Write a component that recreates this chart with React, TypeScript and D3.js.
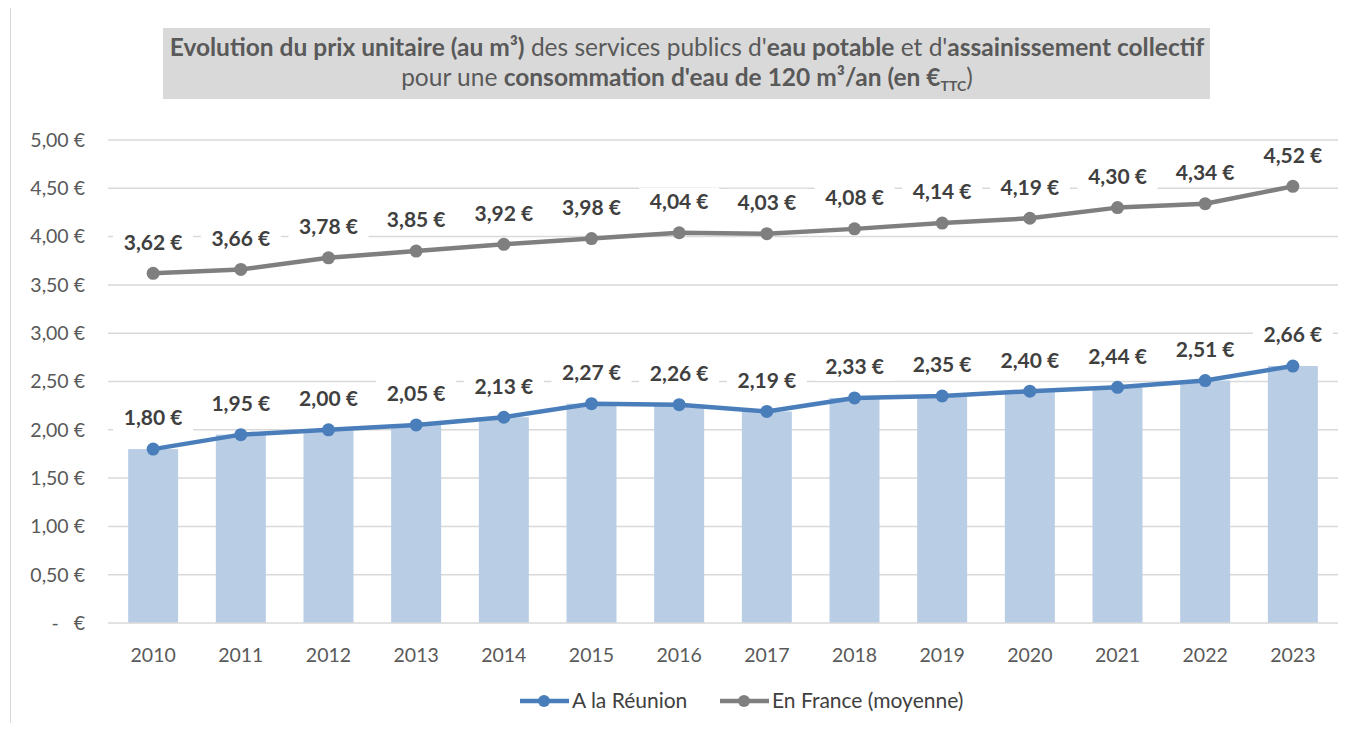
import React, { useRef, useEffect } from "react";
import * as d3 from "d3";

const years = ["2010", "2011", "2012", "2013", "2014", "2015", "2016", "2017", "2018", "2019", "2020", "2021", "2022", "2023"];
const reunion = [1.8, 1.95, 2.0, 2.05, 2.13, 2.27, 2.26, 2.19, 2.33, 2.35, 2.4, 2.44, 2.51, 2.66];
const france = [3.62, 3.66, 3.78, 3.85, 3.92, 3.98, 4.04, 4.03, 4.08, 4.14, 4.19, 4.3, 4.34, 4.52];
const yTicks = [0, 0.5, 1, 1.5, 2, 2.5, 3, 3.5, 4, 4.5, 5];
const seriesNames = ["A la Réunion", "En France (moyenne)"];

const W = 1353;
const H = 731;
const FONT = "Lato, 'Open Sans', sans-serif";
const BLUE = "#4a7ebb";
const GRAY = "#7f7f7f";
const BAR = "#b9cde5";
const TEXT = "#404040";

const fmt = (v: number) => v.toFixed(2).replace(".", ",") + " €";

const App = () => {
  const svgRef = useRef<SVGSVGElement>(null);

  useEffect(() => {
    const svg = d3.select(svgRef.current);
    svg.selectAll("*").remove();

    const margin = { top: 140, right: 15, bottom: 108, left: 108 };
    const plotW = W - margin.left - margin.right;

    const x = d3.scaleBand().domain(years).range([margin.left, margin.left + plotW]).paddingInner(0.43).paddingOuter(0.23);
    const y = d3.scaleLinear().domain([0, 5]).range([623, 140]);

    // outer frame
    svg.append("rect").attr("x", 10.5).attr("y", 6.5).attr("width", W - 14).attr("height", H - 10)
      .attr("fill", "white").attr("stroke", "#d9d9d9");

    // title box
    svg.append("rect").attr("x", 163).attr("y", 28).attr("width", 1047).attr("height", 71).attr("fill", "#d9d9d9");
    const t1 = svg.append("text").attr("x", 687).attr("y", 56).attr("text-anchor", "middle")
      .style("font-family", FONT).style("font-size", "24.5px").attr("fill", "#595959");
    [["Evolution du prix unitaire (au m³)", true], [" des services publics d'", false], ["eau potable", true],
      [" et d'", false], ["assainissement collectif", true]].forEach(([s, b]) => {
      t1.append("tspan").text(s as string).style("font-weight", b ? "bold" : "normal");
    });
    const t2 = svg.append("text").attr("x", 687).attr("y", 86).attr("text-anchor", "middle")
      .style("font-family", FONT).style("font-size", "24.5px").attr("fill", "#595959");
    t2.append("tspan").text("pour une ");
    t2.append("tspan").text("consommation d'eau de 120 m³/an (en €").style("font-weight", "bold");
    t2.append("tspan").text("TTC").style("font-weight", "bold").style("font-size", "14px").attr("dy", 5);
    t2.append("tspan").text(")").attr("dy", -5);

    // gridlines
    svg.append("g").selectAll("line").data(yTicks.slice(1)).join("line")
      .attr("x1", margin.left).attr("x2", margin.left + plotW)
      .attr("y1", (d) => y(d)).attr("y2", (d) => y(d))
      .attr("stroke", "#d9d9d9").attr("stroke-width", 1.5);

    // y labels
    svg.append("g").selectAll("text").data(yTicks).join("text")
      .attr("x", 85).attr("y", (d) => y(d)).attr("dy", "0.35em").attr("text-anchor", "end")
      .style("font-family", FONT).style("font-size", "19.5px").attr("fill", "#595959")
      .style("white-space", "pre")
      .text((d) => (d === 0 ? "-   €" : fmt(d)));

    // bars
    svg.append("g").selectAll("rect").data(reunion).join("rect")
      .attr("x", (d, i) => x(years[i])!).attr("width", x.bandwidth())
      .attr("y", (d) => y(d)).attr("height", (d) => y(0) - y(d)).attr("fill", BAR);

    // axis line
    svg.append("line").attr("x1", margin.left).attr("x2", margin.left + plotW)
      .attr("y1", y(0)).attr("y2", y(0)).attr("stroke", "#d9d9d9").attr("stroke-width", 1.5);

    // x labels
    svg.append("g").selectAll("text").data(years).join("text")
      .attr("x", (d) => x(d)! + x.bandwidth() / 2).attr("y", 655).attr("dy", "0.35em").attr("text-anchor", "middle")
      .style("font-family", FONT).style("font-size", "19.5px").attr("fill", "#595959").text((d) => d);

    const cx = (i: number) => x(years[i])! + x.bandwidth() / 2;
    const line = d3.line<number>().x((d, i) => cx(i)).y((d) => y(d));

    [[france, GRAY], [reunion, BLUE]].forEach(([vals, color]) => {
      const v = vals as number[];
      svg.append("path").datum(v).attr("d", line).attr("fill", "none")
        .attr("stroke", color as string).attr("stroke-width", 4.5).attr("stroke-linejoin", "round");
      svg.append("g").selectAll("circle").data(v).join("circle")
        .attr("cx", (d, i) => cx(i)).attr("cy", (d) => y(d)).attr("r", 6.5).attr("fill", color as string);
      const lg = svg.append("g").selectAll("g").data(v).join("g")
        .attr("transform", (d, i) => `translate(${cx(i)},${y(d) - 31})`);
      lg.append("rect").attr("x", -40).attr("y", -14).attr("width", 80).attr("height", 28).attr("fill", "white");
      lg.append("text").attr("text-anchor", "middle").attr("dy", "0.35em")
        .style("font-family", FONT).style("font-size", "21px").style("font-weight", "bold").attr("fill", TEXT)
        .text((d) => fmt(d));
    });

    // legend
    const legendItems = [
      { name: seriesNames[0], color: BLUE, x: 520 },
      { name: seriesNames[1], color: GRAY, x: 720 },
    ];
    const lgd = svg.append("g").selectAll("g").data(legendItems).join("g")
      .attr("transform", (d) => `translate(${d.x},701)`);
    lgd.append("line").attr("x1", 0).attr("x2", 49).attr("stroke", (d) => d.color).attr("stroke-width", 4.5);
    lgd.append("circle").attr("cx", 24).attr("r", 6).attr("fill", (d) => d.color);
    lgd.append("text").attr("x", 52).attr("dy", "0.35em")
      .style("font-family", FONT).style("font-size", "21px").attr("fill", TEXT).text((d) => d.name);
  }, []);

  return (
    <svg ref={svgRef} width={W} height={H} style={{ display: "block", margin: -8 }} />
  );
};

export default App;
